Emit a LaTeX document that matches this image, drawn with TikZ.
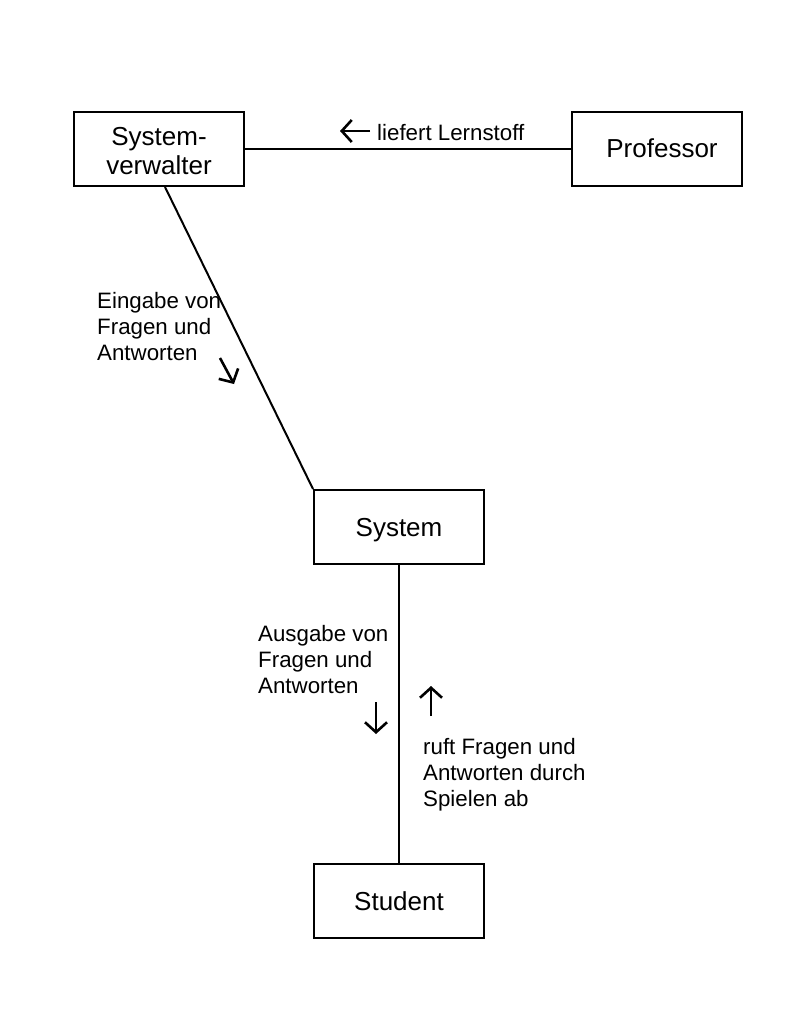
\documentclass[tikz,border=0pt]{standalone}
\usepackage{fontspec}
\setmainfont{Liberation Sans}
\usetikzlibrary{arrows.meta}
\begin{document}
\begin{tikzpicture}[x=1pt,y=-1pt,
  box/.style={draw,line width=2pt,minimum width=170pt,minimum height=74pt,inner sep=0pt,align=center,text height=20pt,text depth=2pt,font=\fontsize{26}{29}\selectfont},
  lbl/.style={anchor=base west,align=left,inner sep=0pt,font=\fontsize{22.3}{26}\selectfont},
  conn/.style={line width=2pt},
  glyph/.style={line width=2.6pt,-{Straight Barb[length=10pt,width=22pt,line width=2.6pt]}}
]
\useasboundingbox (0,0) rectangle (800,1032);
\node[box,text height=53pt,text depth=1pt] (sv) at (159,149) {System-\\verwalter};
\node[box,text width=170pt] (prof) at (657,149) {\hspace*{10pt}Professor};
\node[box] (sys) at (399,527) {System};
\node[box] (stu) at (399,901) {Student};
\draw[conn] (sv.east) -- (prof.west);
\draw[conn] ([xshift=6pt]sv.south) -- (sys.north west);
\draw[conn] (sys.south) -- (stu.north);
\node[lbl] (l1) at (377,141) {liefert Lernstoff};
\node[lbl] (l2) at (97,360) {Eingabe von\\Fragen und\\Antworten};
\node[lbl] (l3) at (258,693) {Ausgabe von\\Fragen und\\Antworten};
\node[lbl] (l4) at (423,806) {ruft Fragen und\\Antworten durch\\Spielen ab};
\coordinate (a1s) at (370,131); \coordinate (a1e) at (340,131);
\coordinate (a2s) at (220,358); \coordinate (a2e) at (234,384);
\coordinate (a3s) at (376,702); \coordinate (a3e) at (376,734);
\coordinate (a4s) at (431,716); \coordinate (a4e) at (431,686);
\draw[glyph] (a1s) -- (a1e);
\draw[glyph] (a2s) -- (a2e);
\draw[glyph] (a3s) -- (a3e);
\draw[glyph] (a4s) -- (a4e);
\end{tikzpicture}
\end{document}
